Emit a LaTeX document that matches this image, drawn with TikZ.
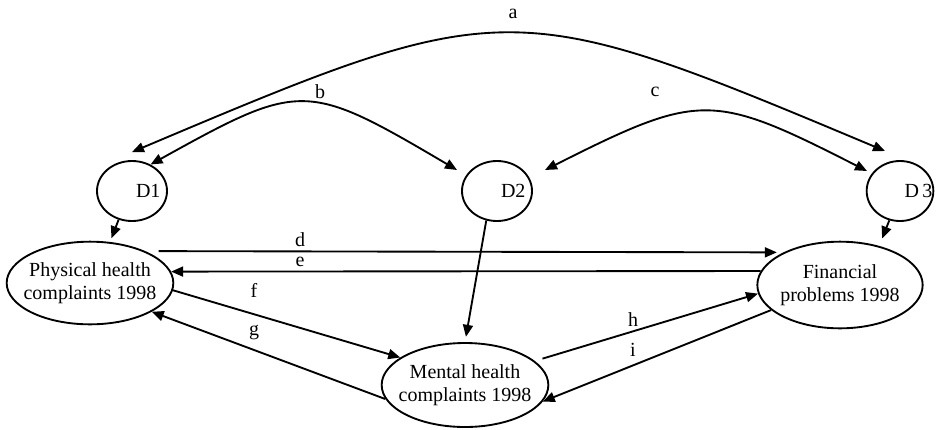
\documentclass[tikz,border=0pt]{standalone}
\usepackage{fontspec}
\setmainfont{Liberation Serif}
\usepackage{tikz}
\usetikzlibrary{shapes.geometric,arrows.meta,calc}

\begin{document}
\begin{tikzpicture}[x=0.75pt,y=-0.75pt,
                font=\fontsize{15}{17.3}\selectfont,
                line width=1.4pt,
                arr/.style={-{Triangle[length=9pt,width=7.5pt]}},
                dbl/.style={{Triangle[length=9pt,width=7.5pt]}-{Triangle[length=9pt,width=7.5pt]}},
                dvar/.style={draw,ellipse,minimum width=52.5pt,minimum height=45pt,inner sep=0pt},
                cvar/.style={draw,ellipse,minimum width=125pt,minimum height=62pt,inner sep=-8pt,align=center},
                lbl/.style={inner sep=0pt}]
                \useasboundingbox (0,0) rectangle (942,429);
                % disturbances
                \node[dvar] (d1) at (132,191) {\makebox[0pt][l]{\hspace{3pt}D1}};
                \node[dvar] (d2) at (497,191) {\makebox[0pt][l]{\hspace{3pt}D2}};
                \node[dvar,minimum width=50pt] (d3) at (900,191) {\makebox[0pt][l]{\hspace{3.5pt}D\,3}};
                % outcomes 1998
                \node[cvar] (phys) at (90,283) {Physical health\\complaints 1998};
                \node[cvar,minimum width=124pt,minimum height=65pt] (fin) at (840,285) {Financial\\problems 1998};
                \node[cvar,minimum height=63pt] (ment) at (465,385) {Mental health\\complaints 1998};
                % correlated disturbances
                \draw[dbl] ($(d1.north)+(0,-8)$) .. controls (506,-6) and (511,-6) .. ($(d3.center)+(-15,-40)$);
                \draw[dbl] (d1.55) .. controls (301,81) and (306,81) .. ($(d2.center)+(-40,-21)$);
                \draw[dbl] ($(d2.center)+(48,-21)$) .. controls (700,92) and (712,92) .. ($(d3.center)+(-33,-20)$);
                \draw[arr,shorten >=3pt] (d1.245) -- (phys.64);
                \draw[arr,shorten >=4pt] (d2.250) -- (ment.north);
                \draw[arr,shorten >=6pt] (d3.250) -- (fin.45);
                % paths
                \draw[arr,shorten <=10pt,shorten >=5pt] (phys.30) -- (fin.150);
                \draw[arr] (fin.170) -- (phys.8.5);
                \draw[arr] (phys.-5) -- (ment.157);
                \draw[arr] (ment.190) -- (phys.-25);
                \draw[arr,shorten <=6pt] (ment.19) -- (fin.186);
                \draw[arr] (fin.200) -- (ment.-12);
                % labels
                \node[lbl] (la) at (513,14) {a};
                \node[lbl] (lb) at (320,92) {b};
                \node[lbl] (lc) at (655,92) {c};
                \node[lbl] (ld) at (300,240) {d};
                \node[lbl] (le) at (300,262) {e};
                \node[lbl] (lf) at (254,290) {f};
                \node[lbl] (lg) at (254,333) {g};
                \node[lbl] (lh) at (633,320) {h};
                \node[lbl] (li) at (633,350) {i};
\end{tikzpicture}
\end{document}
